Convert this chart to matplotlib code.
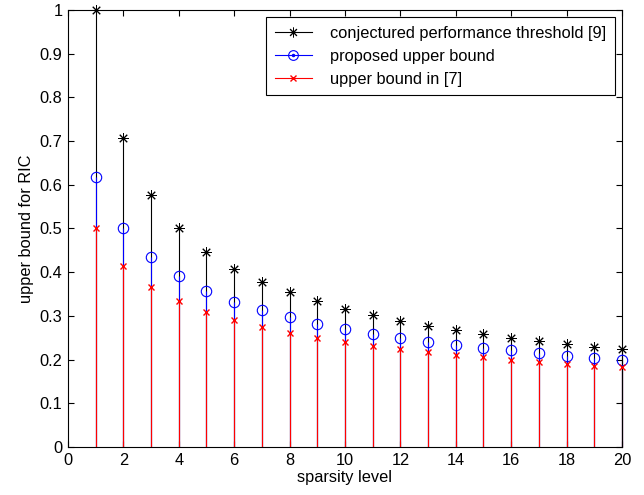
import numpy as np
import matplotlib.pyplot as plt
from matplotlib.lines import Line2D

plt.rcParams['font.family'] = ['Liberation Sans', 'DejaVu Sans']
plt.rcParams['font.size'] = 11.8

# sparsity levels
k = np.arange(1, 21)

# conjectured performance threshold [9]
threshold = [1.0, 0.707, 0.577, 0.5, 0.447, 0.408, 0.378, 0.354, 0.333, 0.316,
             0.302, 0.289, 0.277, 0.267, 0.258, 0.25, 0.243, 0.236, 0.229, 0.224]
# proposed upper bound
proposed = [0.618, 0.5, 0.435, 0.391, 0.358, 0.332, 0.313, 0.297, 0.282, 0.270,
            0.259, 0.249, 0.241, 0.234, 0.227, 0.221, 0.215, 0.209, 0.204, 0.2]
# upper bound in [7]
previous = [0.5, 0.414, 0.366, 0.333, 0.309, 0.290, 0.274, 0.261, 0.25, 0.240,
            0.232, 0.224, 0.217, 0.211, 0.205, 0.2, 0.195, 0.190, 0.186, 0.182]

fig = plt.figure(figsize=(6.44, 4.95), dpi=100)
ax = fig.add_axes([0.1056, 0.097, 0.8602, 0.8828])

asterisk = (8, 2, 0)

def draw_stem(vals, color, marker, size, mew):
    ml, sl, bl = ax.stem(k, vals, linefmt='-', markerfmt=' ', basefmt=' ')
    plt.setp(sl, color=color, linewidth=0.8, clip_on=False)
    ax.plot(k, vals, linestyle='none', marker=marker, markersize=size,
            markeredgecolor=color, markerfacecolor='none', markeredgewidth=mew,
            clip_on=False, zorder=3)

draw_stem(threshold, 'black', asterisk, 7.5, 0.7)
draw_stem(proposed, 'blue', 'o', 7.5, 0.8)
draw_stem(previous, 'red', 'x', 4.5, 1.0)

ax.set_xlim(0, 20)
ax.set_ylim(0, 1)
ax.set_xticks(np.arange(0, 21, 2))
ax.set_yticks(np.arange(0, 1.01, 0.1))
ax.set_yticklabels(['0', '0.1', '0.2', '0.3', '0.4', '0.5', '0.6', '0.7', '0.8', '0.9', '1'])
ax.tick_params(direction='in', top=True, right=True, length=4, pad=4)
ax.set_xlabel('sparsity level', labelpad=2)
ax.set_ylabel('upper bound for RIC', labelpad=4)

h_black = Line2D([0, 1], [0, 0], color='black', linewidth=0.8, marker=asterisk,
                 markersize=7, markevery=[1], markeredgewidth=0.7)
h_blue = Line2D([0, 1], [0, 0], color='blue', linewidth=0.8, marker='o',
                markersize=7, markevery=[1], markerfacecolor='none',
                markeredgewidth=0.8)
h_blue_dot = Line2D([0, 1], [0, 0], color='blue', linestyle='none', marker='.',
                    markersize=3, markevery=[1])
h_red = Line2D([0, 1], [0, 0], color='red', linewidth=0.8, marker='x',
               markersize=4.5, markevery=[1], markeredgewidth=1.0)

leg = ax.legend([h_black, (h_blue, h_blue_dot), h_red],
                ['conjectured performance threshold [9]',
                 'proposed upper bound', 'upper bound in [7]'],
                loc='upper right', fancybox=False, edgecolor='black',
                framealpha=1, handlelength=2.3, handletextpad=1.1,
                borderaxespad=0.45, labelspacing=0.5, borderpad=0.5)
leg.get_frame().set_linewidth(0.8)

fig.savefig('out.png', dpi=100)
